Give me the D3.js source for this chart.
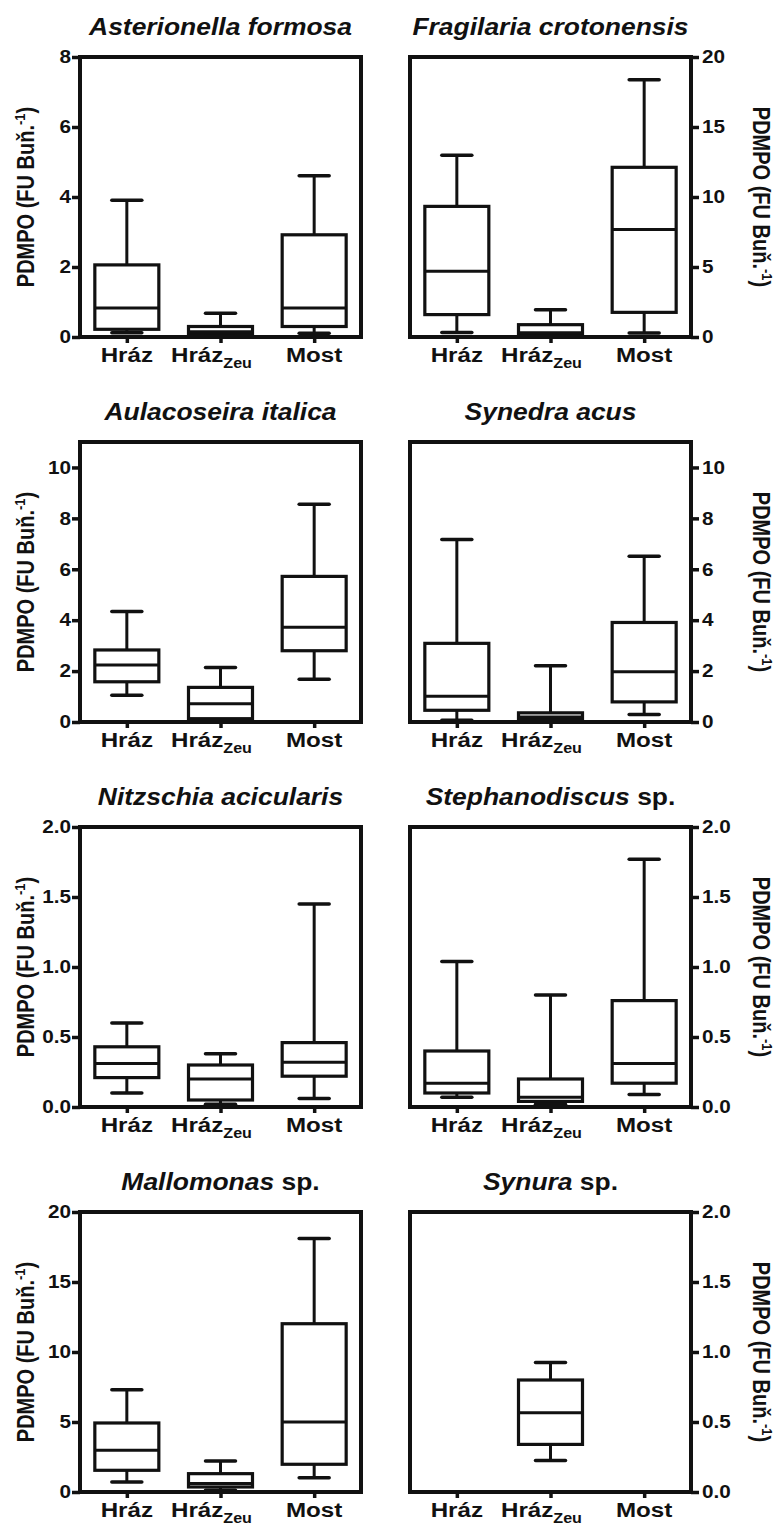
<!DOCTYPE html>
<html>
<head>
<meta charset="utf-8">
<style>
body { margin: 0; background: #fff; }
text { font-family: "Liberation Sans", Arial, sans-serif; font-weight: bold; fill: #111; }
</style>
</head>
<body>
<script src="https://d3js.org/d3.v7.min.js"></script>
<script>
// sites on the x axis
var sites = ["Hráz", "HrázZeu", "Most"];

// box stats per site: [min, q1, median, q3, max]
var asterionella = [[0.12, 0.22, 0.83, 2.06, 3.91], [0.03, 0.07, 0.15, 0.30, 0.68], [0.11, 0.30, 0.83, 2.92, 4.61]];
var fragilaria   = [[0.33, 1.60, 4.69, 9.33, 12.98], [0.05, 0.15, 0.30, 0.88, 1.95], [0.29, 1.76, 7.67, 12.12, 18.38]];
var aulacoseira  = [[1.05, 1.58, 2.24, 2.83, 4.34], [0.07, 0.13, 0.72, 1.36, 2.14], [1.68, 2.80, 3.72, 5.72, 8.55]];
var synedra      = [[0.07, 0.46, 1.01, 3.09, 7.17], [0.05, 0.10, 0.20, 0.36, 2.21], [0.29, 0.79, 1.97, 3.91, 6.51]];
var nitzschia    = [[0.10, 0.21, 0.31, 0.43, 0.60], [0.02, 0.05, 0.20, 0.30, 0.38], [0.06, 0.22, 0.32, 0.46, 1.45]];
var stephanodiscus = [[0.07, 0.10, 0.17, 0.40, 1.04], [0.02, 0.04, 0.07, 0.20, 0.80], [0.09, 0.17, 0.31, 0.76, 1.77]];
var mallomonas   = [[0.71, 1.55, 2.98, 4.93, 7.31], [0.12, 0.36, 0.60, 1.31, 2.21], [1.02, 1.98, 5.00, 12.02, 18.10]];
var synura       = [null, [0.225, 0.34, 0.566, 0.80, 0.925], null];

// tick values
var ticks8 = [0, 2, 4, 6, 8];
var ticks20 = [0, 5, 10, 15, 20];
var ticks10 = [0, 2, 4, 6, 8, 10];
var ticks2 = [0, 0.5, 1.0, 1.5, 2.0];

var panels = [
  {italic: "Asterionella formosa", plain: "", data: asterionella, max: 8, ticks: ticks8, fmt: "d"},
  {italic: "Fragilaria crotonensis", plain: "", data: fragilaria, max: 20, ticks: ticks20, fmt: "d"},
  {italic: "Aulacoseira italica", plain: "", data: aulacoseira, max: 11, ticks: ticks10, fmt: "d"},
  {italic: "Synedra acus", plain: "", data: synedra, max: 11, ticks: ticks10, fmt: "d"},
  {italic: "Nitzschia acicularis", plain: "", data: nitzschia, max: 2, ticks: ticks2, fmt: ".1f"},
  {italic: "Stephanodiscus", plain: " sp.", data: stephanodiscus, max: 2, ticks: ticks2, fmt: ".1f"},
  {italic: "Mallomonas", plain: " sp.", data: mallomonas, max: 20, ticks: ticks20, fmt: "d"},
  {italic: "Synura", plain: " sp.", data: synura, max: 2, ticks: ticks2, fmt: ".1f"}
];

var width = 778, height = 1526;
var colX = [80, 410], rowY0 = 57, rowStep = 385;
var pw = 281, ph = 280;
var boxW = 64, capW = 30;
var ink = "#111";
var sx = 1.15; // text is drawn a little wide

var svg = d3.select("body").append("svg")
    .attr("width", width)
    .attr("height", height);

panels.forEach(function(p, i) {
  var col = i % 2, row = Math.floor(i / 2);
  var g = svg.append("g")
      .attr("transform", "translate(" + colX[col] + "," + (rowY0 + row * rowStep) + ")");

  var x = d3.scalePoint().domain(sites).range([0, pw]).padding(0.5);
  var y = d3.scaleLinear().domain([0, p.max]).range([ph, 0]);

  // title
  var t = g.append("text")
      .attr("text-anchor", "middle")
      .attr("transform", "translate(" + (pw / 2) + ",-22) scale(" + sx + ",1)")
      .style("font-size", "23px");
  t.append("tspan").style("font-style", "italic").text(p.italic);
  if (p.plain) t.append("tspan").text(p.plain);

  // y axis
  var axis = col == 0 ? d3.axisLeft(y) : d3.axisRight(y);
  axis.tickValues(p.ticks).tickSize(8).tickFormat(d3.format(p.fmt));
  var ax = g.append("g")
      .attr("transform", col == 0 ? null : "translate(" + pw + ",0)")
      .call(axis);
  ax.select(".domain").remove();
  ax.selectAll("line").attr("stroke", ink).attr("stroke-width", 3.5);
  ax.selectAll("text")
      .attr("x", null)
      .attr("fill", ink)
      .attr("transform", "translate(" + (col == 0 ? -9 : 11) + ",0) scale(" + sx + ",1)")
      .style("font-size", "18px")
      .style("font-family", null);

  // x axis ticks
  var xa = g.append("g")
      .attr("transform", "translate(0," + ph + ")")
      .call(d3.axisBottom(x).tickSize(6).tickFormat(""));
  xa.select(".domain").remove();
  xa.selectAll("line").attr("stroke", ink).attr("stroke-width", 3.5);

  // x labels
  sites.forEach(function(s) {
    var sub = s == "HrázZeu";
    var lx = x(s) - (sub ? 9 : 0);
    var lt = g.append("text")
        .attr("text-anchor", "middle")
        .attr("transform", "translate(" + lx + "," + (ph + 25) + ") scale(" + sx + ",1)")
        .style("font-size", "21px");
    if (sub) {
      lt.append("tspan").text("Hráz");
      lt.append("tspan").attr("dy", 6).style("font-size", "14px").text("Zeu");
    } else {
      lt.text(s);
    }
  });

  // y label
  var yl = g.append("text")
      .attr("text-anchor", "middle")
      .style("font-size", "20px")
      .attr("transform", col == 0
        ? "translate(-46," + (ph / 2) + ") rotate(-90) scale(1," + sx + ")"
        : "translate(" + (pw + 62) + "," + (ph / 2) + ") rotate(90) scale(1," + sx + ")");
  yl.append("tspan").text("PDMPO (FU Buň.");
  yl.append("tspan").attr("dy", -8).style("font-size", "13px").text("-1");
  yl.append("tspan").attr("dy", 8).text(")");

  // boxes
  var boxes = g.selectAll(".box")
      .data(p.data.map(function(d, k) { return {site: sites[k], v: d}; }).filter(function(d) { return d.v; }))
      .enter().append("g")
      .attr("class", "box")
      .attr("transform", function(d) { return "translate(" + x(d.site) + ",0)"; });

  boxes.append("line")
      .attr("y1", function(d) { return y(d.v[0]); })
      .attr("y2", function(d) { return y(d.v[4]); })
      .attr("stroke", ink).attr("stroke-width", 3);
  boxes.append("rect")
      .attr("x", -boxW / 2)
      .attr("width", boxW)
      .attr("y", function(d) { return y(d.v[3]); })
      .attr("height", function(d) { return y(d.v[1]) - y(d.v[3]); })
      .attr("fill", "#fff").attr("stroke", ink).attr("stroke-width", 3.2);
  boxes.append("line")
      .attr("x1", -boxW / 2).attr("x2", boxW / 2)
      .attr("y1", function(d) { return y(d.v[2]); })
      .attr("y2", function(d) { return y(d.v[2]); })
      .attr("stroke", ink).attr("stroke-width", 3);
  [0, 4].forEach(function(k) {
    boxes.append("line")
        .attr("x1", -capW / 2).attr("x2", capW / 2)
        .attr("y1", function(d) { return y(d.v[k]); })
        .attr("y2", function(d) { return y(d.v[k]); })
        .attr("stroke", ink).attr("stroke-width", 3.5).attr("stroke-linecap", "round");
  });

  // frame
  g.append("rect")
      .attr("width", pw).attr("height", ph)
      .attr("fill", "none").attr("stroke", ink).attr("stroke-width", 4);
});
</script>
</body>
</html>
